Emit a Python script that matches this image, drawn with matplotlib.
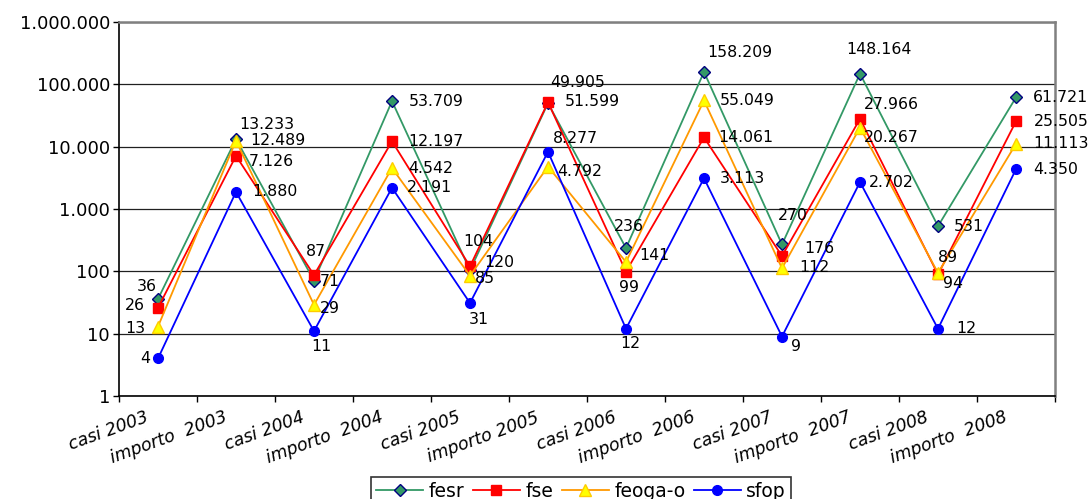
import matplotlib
matplotlib.use('Agg')
import matplotlib.pyplot as plt
import matplotlib.transforms as mtransforms
from matplotlib.ticker import FixedLocator, FuncFormatter, NullLocator

categories = ['casi 2003', 'importo  2003', 'casi 2004', 'importo  2004',
	'casi 2005', 'importo 2005', 'casi 2006', 'importo  2006',
	'casi 2007', 'importo  2007', 'casi 2008', 'importo  2008']

fesr = [36, 13233, 71, 53709, 104, 49905, 236, 158209, 270, 148164, 531, 61721]
fse = [26, 7126, 87, 12197, 120, 51599, 99, 14061, 176, 27966, 89, 25505]
feoga_o = [13, 12489, 29, 4542, 85, 4792, 141, 55049, 112, 20267, 94, 11113]
sfop = [4, 1880, 11, 2191, 31, 8277, 12, 3113, 9, 2702, 12, 4350]

y_ticks = [1, 10, 100, 1000, 10000, 100000, 1000000]

# where each value label sits relative to its point (pixels, right / down)
label_offsets = {
	'fesr': [(-11, -12), (31, -15), (16, 1), (44, 0), (8, -29), (30, -21),
		(3, -22), (36, -19), (11, -29), (19, -24), (31, 0), (45, 0)],
	'fse': [(-23, -2), (35, 6), (2, -24), (44, 0), (29, -4), (44, -1),
		(3, 16), (42, 0), (37, -8), (31, -14), (10, -17), (45, 0)],
	'feoga-o': [(-23, 2), (42, 0), (16, 4), (39, 0), (15, 3), (32, 5),
		(28, -7), (43, 0), (32, -1), (31, 10), (15, 10), (45, 0)],
	'sfop': [(-13, 0), (39, 0), (7, 15), (38, 0), (9, 16), (27, -13),
		(4, 15), (38, 0), (14, 10), (31, 0), (28, 0), (40, 0)],
}

series = [
	('fesr', fesr, dict(color='#339966', marker='D', ms=6, mfc='#339966', mec='#000080', mew=1.0)),
	('fse', fse, dict(color='#FF0000', marker='s', ms=7, mfc='#FF0000', mec='#FF0000')),
	('feoga-o', feoga_o, dict(color='#FF9900', marker='^', ms=8, mfc='#FFFF00', mec='#FFCC00')),
	('sfop', sfop, dict(color='#0000FF', marker='o', ms=7, mfc='#0000FF', mec='#0000FF')),
]

plt.rcParams['font.family'] = ['DejaVu Sans']


def dotted(v, pos=None):
	return f'{int(v):,}'.replace(',', '.')


fig = plt.figure(figsize=(10.9, 4.99), dpi=100)
ax = fig.add_axes([119 / 1090, 1 - 396 / 499, 936 / 1090, 374 / 499])

x = list(range(len(categories)))

for name, values, style in series:
	ax.plot(x, values, lw=1.3, label=name, zorder=3, **style)

for name, values, style in series:
	for xi, v, (dx, dy) in zip(x, values, label_offsets[name]):
		ax.annotate(dotted(v), (xi, v), xytext=(dx, -dy), textcoords='offset pixels',
			ha='center', va='center', fontsize=11.3, color='black', zorder=4,
			annotation_clip=False)

ax.set_yscale('log')
ax.set_ylim(1, 1000000)
ax.yaxis.set_major_locator(FixedLocator(y_ticks))
ax.yaxis.set_minor_locator(NullLocator())
ax.yaxis.set_major_formatter(FuncFormatter(dotted))
ax.tick_params(axis='y', which='major', length=4, width=1, labelsize=13, pad=2.5)
ax.grid(axis='y', which='major', color='#202020', lw=0.9)

# category boundaries get the tick marks, names sit under the points
ax.set_xlim(-0.5, len(categories) - 0.5)
ax.xaxis.set_major_locator(FixedLocator([i - 0.5 for i in range(len(categories) + 1)]))
ax.xaxis.set_major_formatter(FuncFormatter(lambda v, pos: ''))
ax.xaxis.set_minor_locator(FixedLocator(x))
ax.set_xticklabels(categories, minor=True)
ax.tick_params(axis='x', which='major', length=4, width=1)
ax.tick_params(axis='x', which='minor', length=0, pad=9)
shift = mtransforms.ScaledTranslation(-13 / 100, 0, fig.dpi_scale_trans)
for lab in ax.get_xticklabels(minor=True):
	lab.set_rotation(20)
	lab.set_rotation_mode('anchor')
	lab.set_ha('right')
	lab.set_va('top')
	lab.set_fontstyle('italic')
	lab.set_fontsize(12.5)
	lab.set_transform(lab.get_transform() + shift)

for side in ['left', 'bottom']:
	ax.spines[side].set_color('black')
	ax.spines[side].set_linewidth(1.2)
for side in ['top', 'right']:
	ax.spines[side].set_color('#808080')
	ax.spines[side].set_linewidth(1.8)
ax.set_axisbelow(True)

leg = fig.legend(loc='upper center', bbox_to_anchor=(581 / 1090, 1 - 477 / 499),
	ncol=4, fontsize=13.5, frameon=True, fancybox=False, edgecolor='black',
	handlelength=2.5, handletextpad=0.3, columnspacing=0.45, borderpad=0.25,
	borderaxespad=0)
leg.get_frame().set_linewidth(1.2)

fig.savefig('out.png', dpi=100)
